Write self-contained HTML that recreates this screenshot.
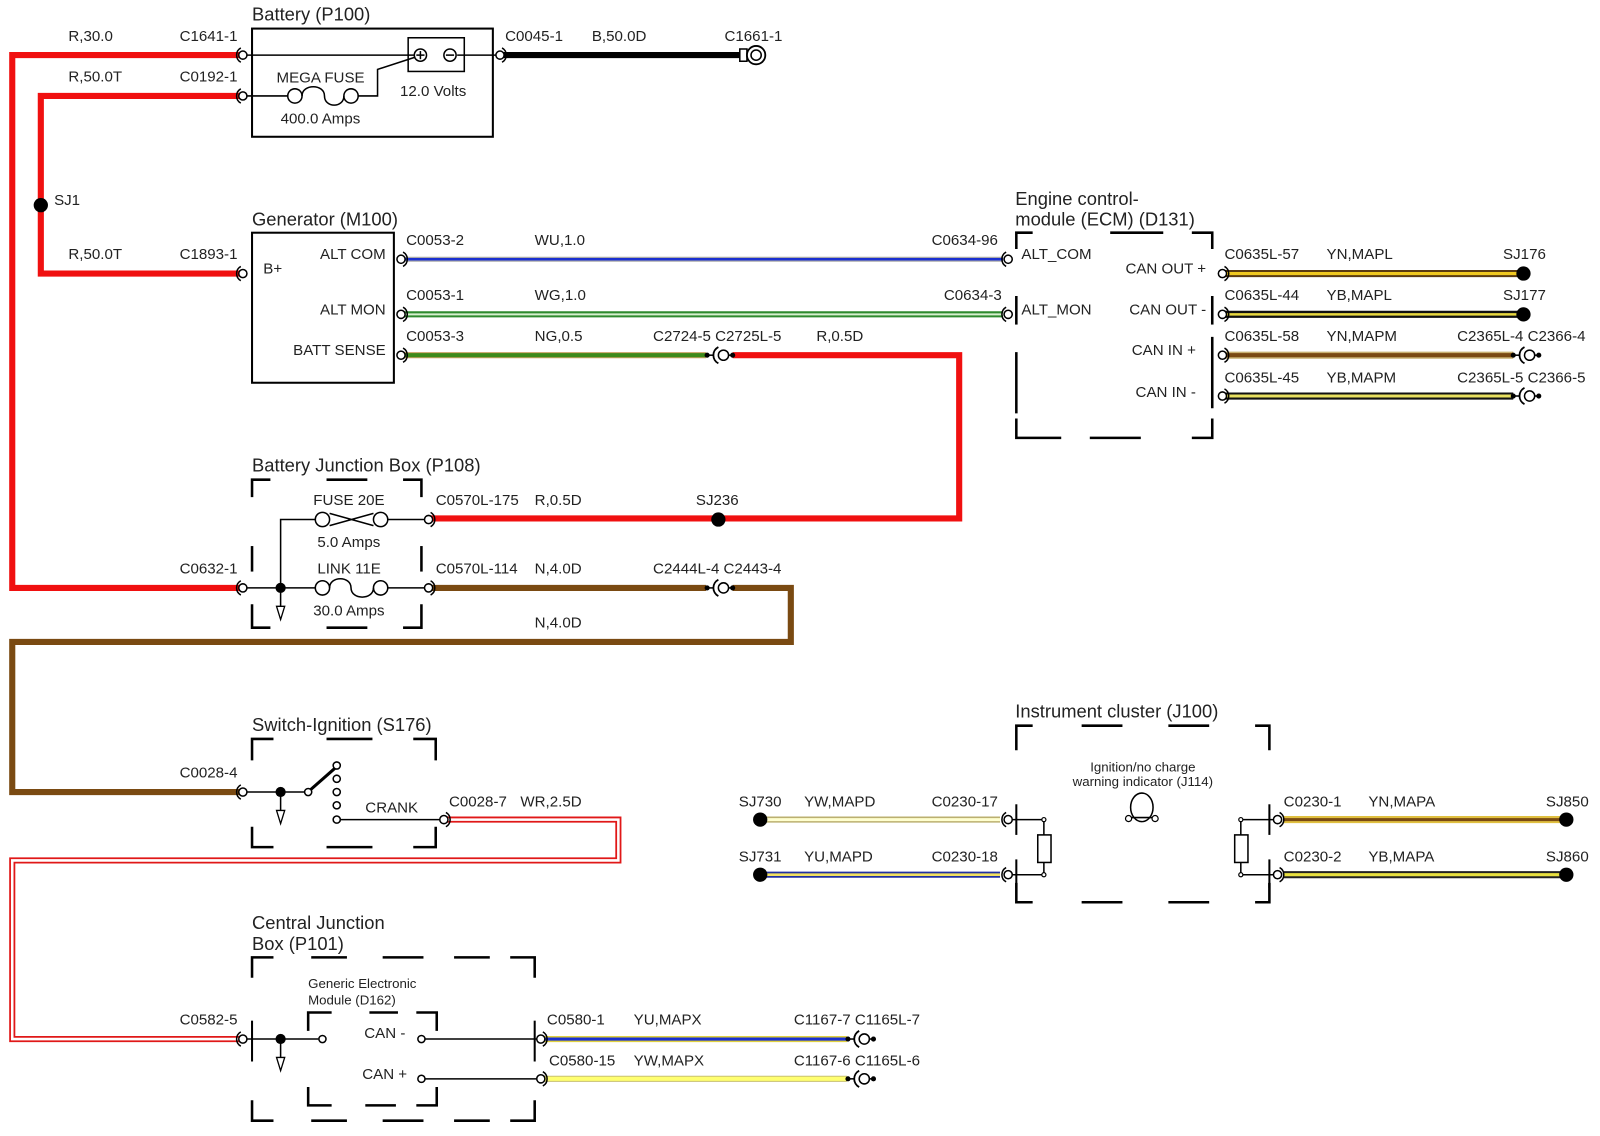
<!DOCTYPE html>
<html><head><meta charset="utf-8"><style>
html,body{margin:0;padding:0;background:#fff;}
svg{display:block;}
text{font-family:"Liberation Sans",sans-serif;font-size:14.8px;fill:#222;}
.t{font-size:18px;}
.s{font-size:13px;}
</style></head><body>
<svg width="1600" height="1136" viewBox="0 0 1568 1113" preserveAspectRatio="none" xmlns="http://www.w3.org/2000/svg">
<defs>
<g id="cn"><path d="M-2,-7 A8,8 0 0 0 -2,7" fill="none" stroke="#000" stroke-width="1.5"/><circle cx="0" cy="0" r="4" fill="#fff" stroke="#000" stroke-width="1.5"/></g>
<g id="cr"><path d="M2,-7 A8,8 0 0 1 2,7" fill="none" stroke="#000" stroke-width="1.5"/><circle cx="0" cy="0" r="4" fill="#fff" stroke="#000" stroke-width="1.5"/></g>
<g id="inl"><circle cx="-12" cy="0" r="2.5"/><line x1="-12" y1="0" x2="-6" y2="0" stroke="#000" stroke-width="1.5"/><path d="M-1,-8 A9,9 0 0 0 -1,8" fill="none" stroke="#000" stroke-width="1.8"/><circle cx="4" cy="0" r="5" fill="#fff" stroke="#000" stroke-width="1.5"/><line x1="9" y1="0" x2="13" y2="0" stroke="#000" stroke-width="1.5"/><circle cx="13" cy="0" r="2.5"/></g>
<g id="gnd"><line x1="0" y1="0" x2="0" y2="18" stroke="#000" stroke-width="1.5"/><path d="M-4,18 L4,18 L0,31 Z" fill="#fff" stroke="#000" stroke-width="1.3"/></g>
</defs>
<g fill="none" stroke-linejoin="miter">
<path d="M238,54 H12 V576 H238" stroke="#f01010" stroke-width="6"/>
<path d="M238,94 H40 V268 H238" stroke="#f01010" stroke-width="6"/>
<path d="M490,54 H725" stroke="#000" stroke-width="6"/>
<path d="M393,254 H983" stroke="#aaa" stroke-width="5"/>
<path d="M393,254 H983" stroke="#1a2fd0" stroke-width="2.5"/>
<path d="M393,308 H983" stroke="#2e8a2e" stroke-width="6"/>
<path d="M393,308 H983" stroke="#d8f0d0" stroke-width="2"/>
<path d="M393,348 H692" stroke="#c8a060" stroke-width="6"/>
<path d="M393,348 H692" stroke="#3d8a1a" stroke-width="4"/>
<path d="M718,348 H940 V508 H420" stroke="#f01010" stroke-width="6"/>
<path d="M420,576 H692" stroke="#7a4a12" stroke-width="6"/>
<path d="M718,576 H775 V629 H12 V776 H238" stroke="#7a4a12" stroke-width="6"/>
<path d="M435,803 H606 V843 H12 V1018 H238" stroke="#e01818" stroke-width="6"/>
<path d="M435,803 H606 V843 H12 V1018 H238" stroke="#fff" stroke-width="2.5"/>
<path d="M1198,268 H1493" stroke="#5a3a10" stroke-width="7"/><path d="M1198,268 H1493" stroke="#f0c820" stroke-width="3"/>
<path d="M1198,308 H1493" stroke="#111" stroke-width="7"/><path d="M1198,308 H1493" stroke="#e8d840" stroke-width="2.5"/>
<path d="M1198,348 H1483" stroke="#c8b070" stroke-width="7"/><path d="M1198,348 H1483" stroke="#7a4a12" stroke-width="4"/>
<path d="M1198,388 H1483" stroke="#111" stroke-width="7"/><path d="M1198,388 H1483" stroke="#e8e060" stroke-width="3"/>
<path d="M745,803 H980" stroke="#bbb070" stroke-width="6"/><path d="M745,803 H980" stroke="#ffffd0" stroke-width="3"/>
<path d="M745,857 H980" stroke="#2030a0" stroke-width="6"/><path d="M745,857 H980" stroke="#f0e060" stroke-width="2.5"/>
<path d="M1258,803 H1535" stroke="#e0c040" stroke-width="7"/><path d="M1258,803 H1535" stroke="#7a4a12" stroke-width="3"/>
<path d="M1258,857 H1535" stroke="#222" stroke-width="7"/><path d="M1258,857 H1535" stroke="#e8e040" stroke-width="3"/>
<path d="M530,1018 H830" stroke="#e0d040" stroke-width="6"/><path d="M530,1018 H830" stroke="#1a2fd0" stroke-width="3"/>
<path d="M530,1057 H830" stroke="#c8c070" stroke-width="6"/><path d="M530,1057 H830" stroke="#ffff70" stroke-width="4"/>
</g>

<circle cx="40" cy="201" r="7"/><circle cx="704" cy="509" r="7"/>
<circle cx="1493" cy="268" r="7"/><circle cx="1493" cy="308" r="7"/>
<circle cx="745" cy="803" r="7"/><circle cx="745" cy="857" r="7"/>
<circle cx="1535" cy="803" r="7"/><circle cx="1535" cy="857" r="7"/>

<g fill="none" stroke="#000" stroke-width="2">
<rect x="247" y="28" width="236" height="106"/>
<rect x="400" y="37" width="55" height="33" stroke-width="1.5"/>
</g>
<g fill="none" stroke="#000" stroke-width="1.5">
<line x1="238" y1="54" x2="406" y2="54"/><line x1="448" y1="54" x2="490" y2="54"/>
<circle cx="412" cy="54" r="6" fill="#fff"/><circle cx="441" cy="54" r="6" fill="#fff"/>
<line x1="408" y1="54" x2="416" y2="54"/><line x1="412" y1="50" x2="412" y2="58"/><line x1="437" y1="54" x2="445" y2="54"/>
<line x1="238" y1="94" x2="282" y2="94"/>
<circle cx="289" cy="94" r="7"/><circle cx="344" cy="94" r="7"/>
<path d="M296,94 C296,82 318,82 318,94 C318,106 337,106 337,94"/>
<path d="M351,94 H370 V68 L407,56"/>
</g>
<line x1="725" y1="54" x2="732" y2="54" stroke="#000" stroke-width="2"/>
<rect x="725" y="48" width="7" height="12" fill="#fff" stroke="#000" stroke-width="1.5"/>
<circle cx="741" cy="54" r="9" fill="#fff" stroke="#000" stroke-width="1.8"/>
<circle cx="741" cy="54" r="5" fill="none" stroke="#000" stroke-width="1.5"/>

<rect x="247" y="228" width="139" height="147" fill="none" stroke="#000" stroke-width="2"/>

<g stroke="#000" stroke-width="2.5" fill="none">
<path d="M996,244 V228 H1012"/><path d="M1088,228 H1140"/><path d="M1168,228 H1188 V244"/>
<path d="M996,410 V429 H1040"/><path d="M1068,429 H1118"/><path d="M1168,429 H1188 V410"/>
<path d="M996,290 V318"/><path d="M996,345 V405"/>
<path d="M1188,290 V318"/><path d="M1188,330 V400"/>
</g>

<g stroke="#000" stroke-width="2.5" fill="none">
<path d="M247,487 V470 H265"/><path d="M320,470 H360"/><path d="M395,470 H413 V487"/>
<path d="M247,535 V560"/><path d="M413,535 V560"/>
<path d="M247,592 V615 H265"/><path d="M320,615 H360"/><path d="M395,615 H413 V592"/>
</g>
<g fill="none" stroke="#000" stroke-width="1.5">
<path d="M238,576 H309"/><path d="M380,576 H420"/>
<path d="M275,576 V509 H309"/><path d="M380,509 H420"/>
<circle cx="316" cy="509" r="7"/><circle cx="373" cy="509" r="7"/>
<path d="M323,503 L366,515 M323,515 L366,503"/>
<circle cx="316" cy="576" r="7"/><circle cx="373" cy="576" r="7"/>
<path d="M323,576 C323,564 344,564 344,576 C344,588 366,588 366,576"/>
</g>
<circle cx="275" cy="576" r="5"/>
<use href="#gnd" x="275" y="576"/>

<g stroke="#000" stroke-width="2.5" fill="none">
<path d="M247,745 V724 H268"/><path d="M320,724 H365"/><path d="M405,724 H427 V745"/>
<path d="M247,810 V830 H268"/><path d="M320,830 H365"/><path d="M405,830 H427 V810"/>
</g>
<g fill="none" stroke="#000" stroke-width="1.5">
<path d="M238,776 H299"/><path d="M333,803 H435"/>
</g>
<line x1="304" y1="774" x2="329" y2="752" stroke="#000" stroke-width="3"/>
<circle cx="275" cy="776" r="5"/><use href="#gnd" x="275" y="776"/>
<g fill="#fff" stroke="#000" stroke-width="1.5">
<circle cx="302" cy="776" r="3.5"/><circle cx="330" cy="750" r="3.5"/><circle cx="330" cy="763" r="3.5"/><circle cx="330" cy="776" r="3.5"/><circle cx="330" cy="789" r="3.5"/><circle cx="330" cy="803" r="3.5"/>
</g>

<g stroke="#000" stroke-width="2.5" fill="none">
<path d="M247,958 V938 H268"/><path d="M305,938 H340"/><path d="M375,938 H415"/><path d="M445,938 H480"/><path d="M500,938 H524 V958"/>
<path d="M247,1078 V1098 H268"/><path d="M305,1098 H340"/><path d="M375,1098 H415"/><path d="M445,1098 H480"/><path d="M500,1098 H524 V1078"/>
<path d="M247,1000 V1040" stroke-width="2"/><path d="M524,1000 V1040" stroke-width="2"/>
<path d="M302,1010 V992 H325"/><path d="M362,992 H390"/><path d="M408,992 H428 V1010"/>
<path d="M302,1065 V1083 H325"/><path d="M358,1083 H388"/><path d="M408,1083 H428 V1065"/>
</g>
<g fill="none" stroke="#000" stroke-width="1.5">
<path d="M238,1018 H312"/><path d="M417,1018 H530"/><path d="M417,1057 H530"/>
</g>
<circle cx="275" cy="1018" r="5"/><use href="#gnd" x="275" y="1018"/>
<g fill="#fff" stroke="#000" stroke-width="1.5"><circle cx="316" cy="1018" r="3.5"/><circle cx="413" cy="1018" r="3.5"/><circle cx="413" cy="1057" r="3.5"/></g>

<g stroke="#000" stroke-width="2.5" fill="none">
<path d="M996,735 V711 H1012"/><path d="M1060,711 H1100"/><path d="M1145,711 H1185"/><path d="M1230,711 H1244 V735"/>
<path d="M996,865 V884 H1012"/><path d="M1060,884 H1100"/><path d="M1145,884 H1185"/><path d="M1230,884 H1244 V865"/>
<path d="M996,788 V818" stroke-width="2"/><path d="M996,842 V870" stroke-width="2"/>
<path d="M1244,788 V818" stroke-width="2"/><path d="M1244,842 V870" stroke-width="2"/>
</g>
<g fill="none" stroke="#000" stroke-width="1.5">
<path d="M988,803 H1023 V818"/><path d="M988,857 H1023 V845"/><rect x="1017" y="818" width="13" height="27" fill="#fff"/>
<path d="M1252,803 H1216 V818"/><path d="M1252,857 H1216 V845"/><rect x="1210" y="818" width="13" height="27" fill="#fff"/>
<ellipse cx="1119" cy="791" rx="11" ry="14"/>
<path d="M1108,801 H1130"/>
</g>
<g fill="#fff" stroke="#000" stroke-width="1.2">
<circle cx="1023" cy="803" r="2"/><circle cx="1023" cy="857" r="2"/><circle cx="1216" cy="803" r="2"/><circle cx="1216" cy="857" r="2"/>
<circle cx="1106" cy="802" r="3"/><circle cx="1132" cy="802" r="3"/>
</g>

<use href="#cn" x="238" y="54"/><use href="#cn" x="238" y="94"/><use href="#cn" x="238" y="268"/>
<use href="#cr" x="490" y="54"/>
<use href="#cr" x="393" y="254"/><use href="#cr" x="393" y="308"/><use href="#cr" x="393" y="348"/>
<use href="#cn" x="988" y="254"/><use href="#cn" x="988" y="308"/>
<use href="#cr" x="1198" y="268"/><use href="#cr" x="1198" y="308"/><use href="#cr" x="1198" y="348"/><use href="#cr" x="1198" y="388"/>
<use href="#inl" x="705" y="348"/><use href="#inl" x="705" y="576"/>
<use href="#inl" x="1495" y="348"/><use href="#inl" x="1495" y="388"/>
<use href="#inl" x="843" y="1018"/><use href="#inl" x="843" y="1057"/>
<use href="#cn" x="238" y="576"/><use href="#cr" x="420" y="509"/><use href="#cr" x="420" y="576"/>
<use href="#cn" x="238" y="776"/><use href="#cr" x="435" y="803"/>
<use href="#cn" x="238" y="1018"/><use href="#cr" x="530" y="1018"/><use href="#cr" x="530" y="1057"/>
<use href="#cn" x="988" y="803"/><use href="#cn" x="988" y="857"/>
<use href="#cr" x="1252" y="803"/><use href="#cr" x="1252" y="857"/>

<text x="247" y="20" class="t">Battery (P100)</text>
<text x="67" y="40">R,30.0</text><text x="176" y="40">C1641-1</text>
<text x="67" y="80">R,50.0T</text><text x="176" y="80">C0192-1</text>
<text x="271" y="81">MEGA FUSE</text><text x="275" y="121">400.0 Amps</text><text x="392" y="94">12.0 Volts</text>
<text x="495" y="40">C0045-1</text><text x="580" y="40">B,50.0D</text><text x="710" y="40">C1661-1</text>
<text x="53" y="201">SJ1</text>
<text x="247" y="221" class="t">Generator (M100)</text>
<text x="67" y="254">R,50.0T</text><text x="176" y="254">C1893-1</text>
<text x="258" y="268">B+</text>
<text x="378" y="254" text-anchor="end">ALT COM</text><text x="378" y="308" text-anchor="end">ALT MON</text><text x="378" y="348" text-anchor="end">BATT SENSE</text>
<text x="398" y="240">C0053-2</text><text x="524" y="240">WU,1.0</text><text x="913" y="240">C0634-96</text>
<text x="398" y="294">C0053-1</text><text x="524" y="294">WG,1.0</text><text x="925" y="294">C0634-3</text>
<text x="398" y="334">C0053-3</text><text x="524" y="334">NG,0.5</text><text x="640" y="334">C2724-5 C2725L-5</text><text x="800" y="334">R,0.5D</text>
<text x="995" y="201" class="t">Engine control-</text><text x="995" y="221" class="t">module (ECM) (D131)</text>
<text x="1001" y="254">ALT_COM</text><text x="1001" y="308">ALT_MON</text>
<text x="1182" y="268" text-anchor="end">CAN OUT +</text><text x="1182" y="308" text-anchor="end">CAN OUT -</text>
<text x="1172" y="348" text-anchor="end">CAN IN +</text><text x="1172" y="389" text-anchor="end">CAN IN -</text>
<text x="1200" y="254">C0635L-57</text><text x="1300" y="254">YN,MAPL</text><text x="1473" y="254">SJ176</text>
<text x="1200" y="294">C0635L-44</text><text x="1300" y="294">YB,MAPL</text><text x="1473" y="294">SJ177</text>
<text x="1200" y="334">C0635L-58</text><text x="1300" y="334">YN,MAPM</text><text x="1428" y="334">C2365L-4 C2366-4</text>
<text x="1200" y="375">C0635L-45</text><text x="1300" y="375">YB,MAPM</text><text x="1428" y="375">C2365L-5 C2366-5</text>
<text x="247" y="462" class="t">Battery Junction Box (P108)</text>
<text x="307" y="495">FUSE 20E</text><text x="311" y="536">5.0 Amps</text><text x="311" y="562">LINK 11E</text><text x="307" y="603">30.0 Amps</text>
<text x="427" y="495">C0570L-175</text><text x="524" y="495">R,0.5D</text><text x="682" y="495">SJ236</text>
<text x="176" y="562">C0632-1</text>
<text x="427" y="562">C0570L-114</text><text x="524" y="562">N,4.0D</text><text x="640" y="562">C2444L-4 C2443-4</text>
<text x="524" y="615">N,4.0D</text>
<text x="247" y="716" class="t">Switch-Ignition (S176)</text>
<text x="176" y="762">C0028-4</text><text x="358" y="796">CRANK</text>
<text x="440" y="790">C0028-7</text><text x="510" y="790">WR,2.5D</text>
<text x="995" y="703" class="t">Instrument cluster (J100)</text>
<text x="1120" y="756" class="s" text-anchor="middle">Ignition/no charge</text>
<text x="1120" y="770" class="s" text-anchor="middle">warning indicator (J114)</text>
<text x="724" y="790">SJ730</text><text x="788" y="790">YW,MAPD</text><text x="913" y="790">C0230-17</text>
<text x="724" y="844">SJ731</text><text x="788" y="844">YU,MAPD</text><text x="913" y="844">C0230-18</text>
<text x="1258" y="790">C0230-1</text><text x="1341" y="790">YN,MAPA</text><text x="1515" y="790">SJ850</text>
<text x="1258" y="844">C0230-2</text><text x="1341" y="844">YB,MAPA</text><text x="1515" y="844">SJ860</text>
<text x="247" y="910" class="t">Central Junction</text><text x="247" y="931" class="t">Box (P101)</text>
<text x="302" y="968" class="s">Generic Electronic</text><text x="302" y="984" class="s">Module (D162)</text>
<text x="176" y="1004">C0582-5</text>
<text x="357" y="1017">CAN -</text><text x="355" y="1057">CAN +</text>
<text x="536" y="1004">C0580-1</text><text x="621" y="1004">YU,MAPX</text><text x="778" y="1004">C1167-7 C1165L-7</text>
<text x="538" y="1044">C0580-15</text><text x="621" y="1044">YW,MAPX</text><text x="778" y="1044">C1167-6 C1165L-6</text>
</svg>
</body></html>
